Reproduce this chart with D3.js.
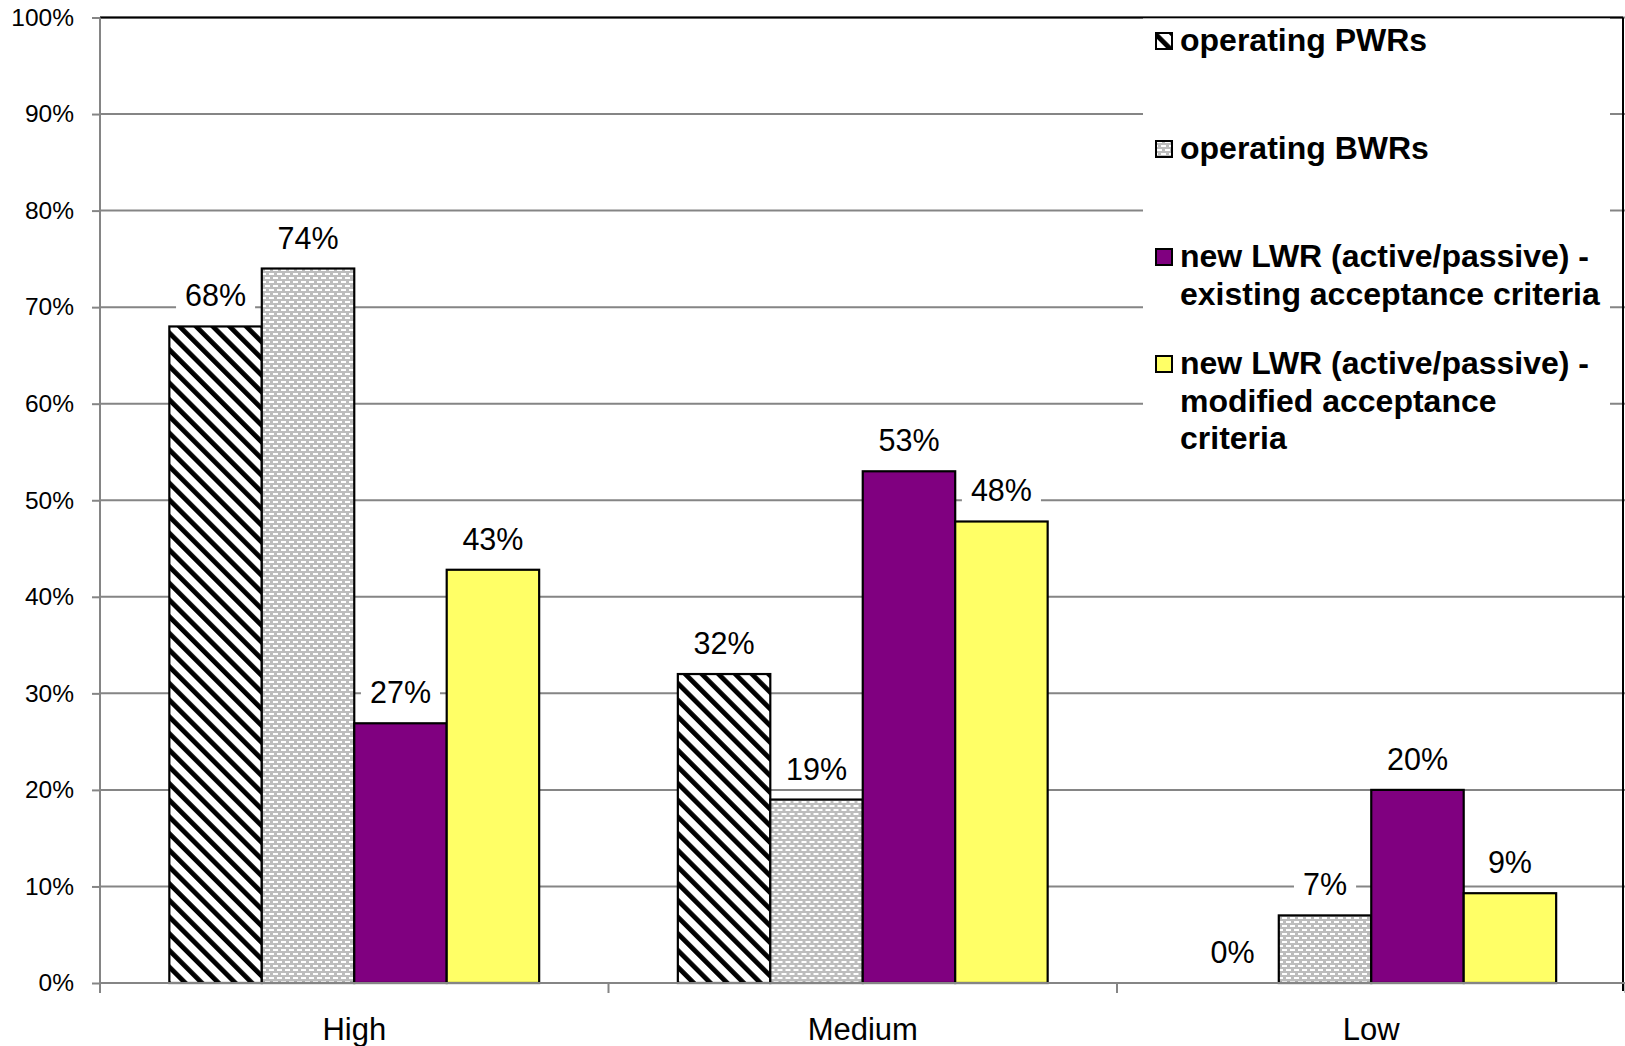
<!DOCTYPE html>
<html>
<head>
<meta charset="utf-8">
<script src="https://cdn.jsdelivr.net/npm/d3@7"></script>
<style>
html, body { margin: 0; padding: 0; background: #fff; }
svg { display: block; font-family: "Liberation Sans", Arial, sans-serif; }
</style>
</head>
<body>
<svg id="chart" width="1625" height="1046"></svg>
<script>
// ---- data ----
const categories = ["High", "Medium", "Low"];
const seriesKeys = ["pwr", "bwr", "lwrExisting", "lwrModified"];
const pwr = [0.68, 0.32, 0.0];
const bwr = [0.74, 0.19, 0.07];
const lwrExisting = [0.269, 0.53, 0.20];
const lwrModified = [0.428, 0.478, 0.093];
const yTicks = [0, 0.1, 0.2, 0.3, 0.4, 0.5, 0.6, 0.7, 0.8, 0.9, 1.0];
const legendLabels = [
  ["operating PWRs"],
  ["operating BWRs"],
  ["new LWR (active/passive) -", "existing acceptance criteria"],
  ["new LWR (active/passive) -", "modified acceptance", "criteria"]
];

const seriesValues = { pwr, bwr, lwrExisting, lwrModified };
const fills = { pwr: "url(#patPWR)", bwr: "url(#patBWR)", lwrExisting: "#800080", lwrModified: "#FFFF66" };

// ---- layout ----
const plotLeft = 100, plotRight = 1625.5, plotTop = 17.5, plotBottom = 983;
const svg = d3.select("#chart");

// patterns
const defs = svg.append("defs");
const p1 = defs.append("pattern").attr("id", "patPWR").attr("patternUnits", "userSpaceOnUse")
  .attr("width", 11.8).attr("height", 11.8).attr("patternTransform", "rotate(-45)");
p1.append("rect").attr("width", 11.8).attr("height", 11.8).attr("fill", "#fff");
p1.append("rect").attr("x", 0).attr("width", 4.8).attr("height", 11.8).attr("fill", "#000");

const p2 = defs.append("pattern").attr("id", "patBWR").attr("patternUnits", "userSpaceOnUse")
  .attr("width", 8).attr("height", 8);
p2.append("rect").attr("width", 8).attr("height", 8).attr("fill", "#bdbdbd");
p2.append("rect").attr("x", 1).attr("y", 1).attr("width", 5).attr("height", 2).attr("fill", "#fff");
p2.append("rect").attr("x", 5).attr("y", 5).attr("width", 5).attr("height", 2).attr("fill", "#fff");
p2.append("rect").attr("x", -3).attr("y", 5).attr("width", 5).attr("height", 2).attr("fill", "#fff");

// scales
const y = d3.scaleLinear().domain([0, 1]).range([plotBottom, plotTop]);
const x0 = d3.scaleBand().domain(categories).range([plotLeft, plotRight]).paddingInner(0).paddingOuter(0);
const x1 = d3.scaleBand().domain(seriesKeys).range([0, x0.bandwidth()]).paddingInner(0).paddingOuter(0.75);

const gray = "#858585";

// gridlines
svg.append("g").selectAll("line").data(yTicks.slice(1)).join("line")
  .attr("x1", plotLeft).attr("x2", plotRight).attr("y1", d => y(d)).attr("y2", d => y(d))
  .attr("stroke", gray).attr("stroke-width", 2);

// plot border (top & right black)
svg.append("line").attr("x1", plotLeft).attr("x2", 1623).attr("y1", plotTop).attr("y2", plotTop)
  .attr("stroke", "#000").attr("stroke-width", 2);
svg.append("line").attr("x1", 1623).attr("x2", 1623).attr("y1", plotTop).attr("y2", 991)
  .attr("stroke", "#000").attr("stroke-width", 2);

// legend background box
svg.append("rect").attr("x", 1143).attr("y", plotTop + 1).attr("width", 467).attr("height", 452).attr("fill", "#fff");

// bars
const groups = svg.append("g").selectAll("g").data(categories).join("g")
  .attr("transform", d => `translate(${x0(d)},0)`);
groups.selectAll("rect").data((c, i) => seriesKeys.map(k => ({ key: k, value: seriesValues[k][i] })))
  .join("rect")
  .filter(d => d.value > 0)
  .attr("x", d => x1(d.key))
  .attr("width", x1.bandwidth())
  .attr("y", d => y(d.value))
  .attr("height", d => y(0) - y(d.value))
  .attr("fill", d => fills[d.key])
  .attr("stroke", "#000").attr("stroke-width", 2.2);

// y axis
const yAxis = svg.append("g").attr("transform", `translate(${plotLeft},0)`)
  .call(d3.axisLeft(y).tickValues(yTicks).tickFormat(d3.format(".0%")).tickSize(8).tickPadding(18));
yAxis.select(".domain").attr("stroke", gray).attr("stroke-width", 2).attr("d", `M0,${plotTop}V${plotBottom + 10}`);
yAxis.selectAll(".tick line").attr("stroke", gray).attr("stroke-width", 2);
yAxis.selectAll(".tick text").attr("font-size", 24.5).attr("fill", "#000")
  .attr("font-family", "'Liberation Sans', Arial, sans-serif");

// x axis
const xAxis = svg.append("g").attr("transform", `translate(0,${plotBottom})`)
  .call(d3.axisBottom(x0).tickSize(0));
xAxis.select(".domain").attr("stroke", gray).attr("stroke-width", 2).attr("d", `M${plotLeft},0H${plotRight}`);
xAxis.selectAll(".tick text").attr("font-size", 31).attr("fill", "#000").attr("y", 57).attr("dy", 0)
  .attr("font-family", "'Liberation Sans', Arial, sans-serif");
const boundaries = categories.map(c => x0(c)).concat([x0.range()[1]]);
xAxis.append("g").selectAll("line").data(boundaries).join("line")
  .attr("x1", d => d).attr("x2", d => d).attr("y1", 0).attr("y2", 10)
  .attr("stroke", gray).attr("stroke-width", 2);

// data labels
const fmt = d3.format(".0%");
const labels = svg.append("g");
categories.forEach((c, i) => {
  seriesKeys.forEach(k => {
    const v = seriesValues[k][i];
    const cx = x0(c) + x1(k) + x1.bandwidth() / 2;
    const base = y(v) - 20;
    const g = labels.append("g");
    const bg = g.append("rect").attr("fill", "#fff");
    const t = g.append("text").attr("x", cx).attr("y", base).attr("text-anchor", "middle")
      .attr("font-size", 30.5).attr("fill", "#000").text(fmt(Math.round(v * 100) / 100));
    const w = t.node().getComputedTextLength() + 18;
    bg.attr("x", cx - w / 2).attr("y", base - 29).attr("width", w).attr("height", 37);
  });
});

// legend
const legendBaselines = [51, 159, 267, 374];
const lineH = 37.5;
const legend = svg.append("g");
legendLabels.forEach((lines, i) => {
  const b = legendBaselines[i];
  legend.append("rect").attr("x", 1156).attr("y", b - 18).attr("width", 16).attr("height", 16)
    .attr("fill", fills[seriesKeys[i]]).attr("stroke", "#000").attr("stroke-width", 2);
  const t = legend.append("text").attr("x", 1180).attr("y", b)
    .attr("font-size", 32).attr("font-weight", "bold").attr("fill", "#000");
  lines.forEach((ln, j) => {
    t.append("tspan").attr("x", 1180).attr("y", b + j * lineH).text(ln);
  });
});
</script>
</body>
</html>
